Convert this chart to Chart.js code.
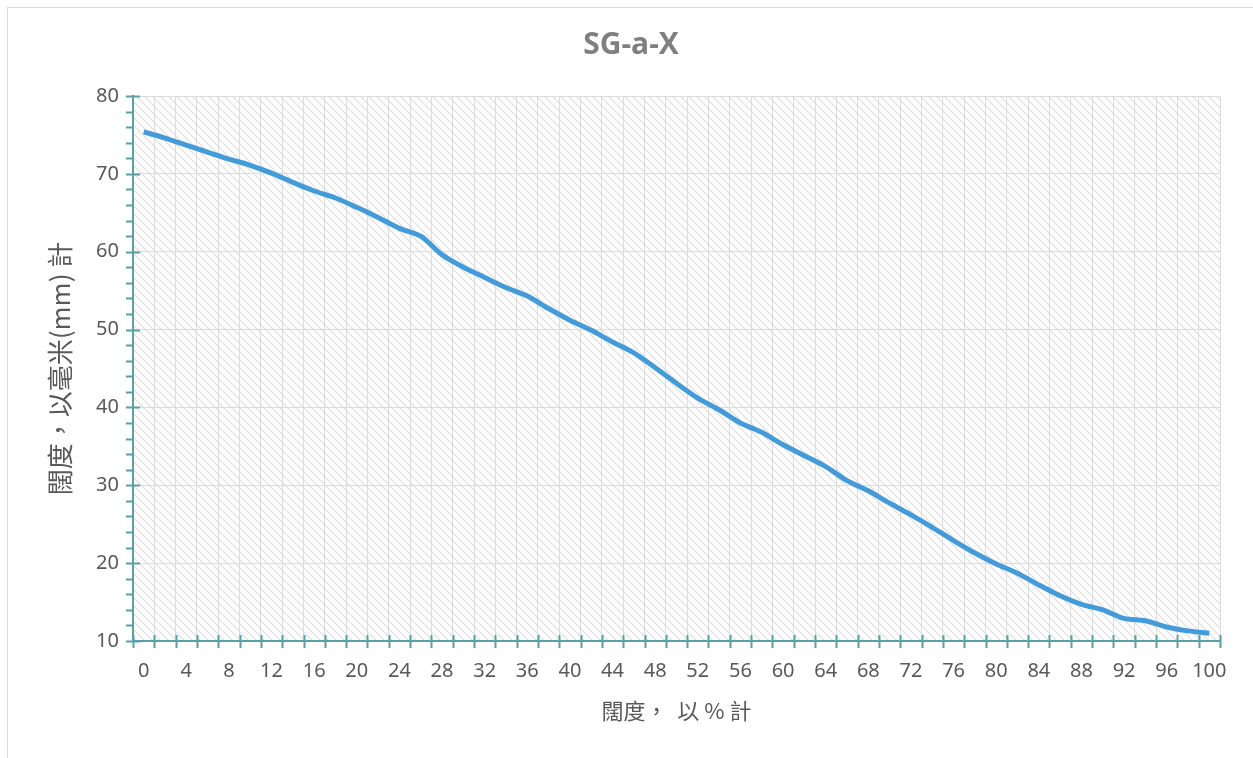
<!DOCTYPE html>
<html lang="zh-Hant">
  <head>
    <meta charset="UTF-8" />
    <title>SG-a-X</title>
    <script src="https://cdn.jsdelivr.net/npm/chart.js@4.4.1/dist/chart.umd.min.js"></script>
    <style>
      html,
      body {
        margin: 0;
        padding: 0;
        background: #ffffff;
        overflow: hidden;
      }

      .wrap {
        position: relative;
        width: 1253px;
        height: 758px;
      }

      .frame {
        position: absolute;
        left: 7px;
        top: 7px;
        width: 1300px;
        height: 800px;
        border: 1px solid #d9d9d9;
        pointer-events: none;
      }
    </style>
  </head>
  <body>
    <div class="wrap">
      <canvas id="chart" width="1253" height="758"></canvas>
      <div class="frame"></div>
    </div>

    <script>
      // 闊度 (%) 分類
      const widthPct = [
        0, 2, 4, 6, 8, 10, 12, 14, 16, 18, 20, 22, 24, 26, 28, 30, 32, 34, 36,
        38, 40, 42, 44, 46, 48, 50, 52, 54, 56, 58, 60, 62, 64, 66, 68, 70, 72,
        74, 76, 78, 80, 82, 84, 86, 88, 90, 92, 94, 96, 98, 100,
      ];

      // 闊度 (mm)
      const widthMm = [
        75.4, 74.6, 73.7, 72.8, 71.9, 71.1, 70.1, 68.9, 67.8, 66.9, 65.7, 64.4,
        63.0, 62.0, 59.6, 58.0, 56.7, 55.4, 54.3, 52.7, 51.2, 49.9, 48.4, 47.0,
        45.1, 43.1, 41.2, 39.7, 38.0, 36.8, 35.2, 33.8, 32.4, 30.6, 29.3, 27.7,
        26.2, 24.6, 22.9, 21.3, 19.9, 18.7, 17.2, 15.8, 14.7, 14.0, 12.9, 12.6,
        11.8, 11.3, 11.0,
      ];

      const yMin = 10;
      const yMax = 80;
      const yMajor = 10;
      const yMinor = 2;

      const axisColor = "#5aa0a9";
      const gridColor = "#dcdcdc";
      const textColor = "#595959";

      // 斜線底紋
      function makeHatch() {
        const c = document.createElement("canvas");
        c.width = 8;
        c.height = 8;
        const g = c.getContext("2d");
        g.fillStyle = "#ffffff";
        g.fillRect(0, 0, 8, 8);
        g.strokeStyle = "#dedede";
        g.lineWidth = 1.2;
        g.beginPath();
        g.moveTo(-2, -2);
        g.lineTo(10, 10);
        g.moveTo(-2, 6);
        g.lineTo(2, 10);
        g.moveTo(6, -2);
        g.lineTo(10, 2);
        g.stroke();
        return g.createPattern(c, "repeat");
      }

      const plotBackground = {
        id: "plotBackground",
        beforeDraw(chart) {
          const { ctx, chartArea: a } = chart;
          ctx.save();
          ctx.fillStyle = makeHatch();
          ctx.fillRect(a.left, a.top, a.right - a.left, a.bottom - a.top);
          ctx.restore();
        },
      };

      // 坐標軸刻度
      const axisMarks = {
        id: "axisMarks",
        afterDraw(chart) {
          const { ctx, chartArea: a } = chart;
          const xs = chart.scales.x;
          const ys = chart.scales.y;
          ctx.save();
          ctx.strokeStyle = axisColor;
          ctx.lineWidth = 2;
          ctx.beginPath();
          const step = xs.getPixelForTick(1) - xs.getPixelForTick(0);
          const x0 = xs.getPixelForTick(0) - step / 2;
          for (let i = 0; i <= widthPct.length; i++) {
            const x = Math.round(x0 + i * step) + 0.5;
            ctx.moveTo(x, a.bottom - 6);
            ctx.lineTo(x, a.bottom + 7);
          }
          for (let v = yMin; v <= yMax; v += yMinor) {
            const y = Math.round(ys.getPixelForValue(v)) + 0.5;
            const major = (v - yMin) % yMajor === 0;
            ctx.moveTo(a.left - 7, y);
            ctx.lineTo(major ? a.left + 7 : a.left, y);
          }
          ctx.stroke();
          ctx.restore();
        },
      };

      new Chart(document.getElementById("chart"), {
        type: "line",
        data: {
          labels: widthPct,
          datasets: [
            {
              data: widthMm,
              borderColor: "#449bd9",
              borderWidth: 5,
              pointRadius: 0,
              tension: 0.3,
              fill: false,
            },
          ],
        },
        options: {
          responsive: false,
          animation: false,
          events: [],
          layout: {
            padding: { left: 42, right: 33, top: 0, bottom: 0 },
          },
          plugins: {
            legend: { display: false },
            tooltip: { enabled: false },
            title: {
              display: true,
              text: "SG-a-X",
              color: "#7f7f7f",
              font: { family: "'Open Sans', 'Noto Sans'", size: 30, weight: "bold" },
              padding: { top: 27, bottom: 33 },
            },
          },
          scales: {
            x: {
              type: "category",
              offset: true,
              afterFit(s) {
                s.height = 117;
              },
              grid: {
                offset: true,
                color: gridColor,
                lineWidth: 1,
                drawTicks: false,
              },
              border: { color: axisColor, width: 2 },
              ticks: {
                autoSkip: false,
                maxRotation: 0,
                padding: 18,
                color: textColor,
                font: { family: "'Noto Sans'", size: 20 },
                callback: (val, i) => (i % 2 === 0 ? widthPct[i] : ""),
              },
              title: {
                display: true,
                text: "闊度，  以 % 計",
                color: textColor,
                font: { family: "'Noto Sans CJK TC', 'Noto Sans'", size: 22 },
                padding: { top: 0, bottom: 34 },
              },
            },
            y: {
              min: yMin,
              max: yMax,
              afterFit(s) {
                s.width = 91;
              },
              grid: {
                color: gridColor,
                lineWidth: 1,
                drawTicks: false,
              },
              border: { color: axisColor, width: 2 },
              ticks: {
                stepSize: yMajor,
                padding: 14,
                color: textColor,
                font: { family: "'Noto Sans'", size: 20 },
              },
              title: {
                display: true,
                text: "闊度，以毫米(mm) 計",
                color: textColor,
                font: { family: "'Noto Sans CJK TC', 'Noto Sans'", size: 26 },
                padding: { top: 3, bottom: 0 },
              },
            },
          },
        },
        plugins: [plotBackground, axisMarks],
      });
    </script>
  </body>
</html>
